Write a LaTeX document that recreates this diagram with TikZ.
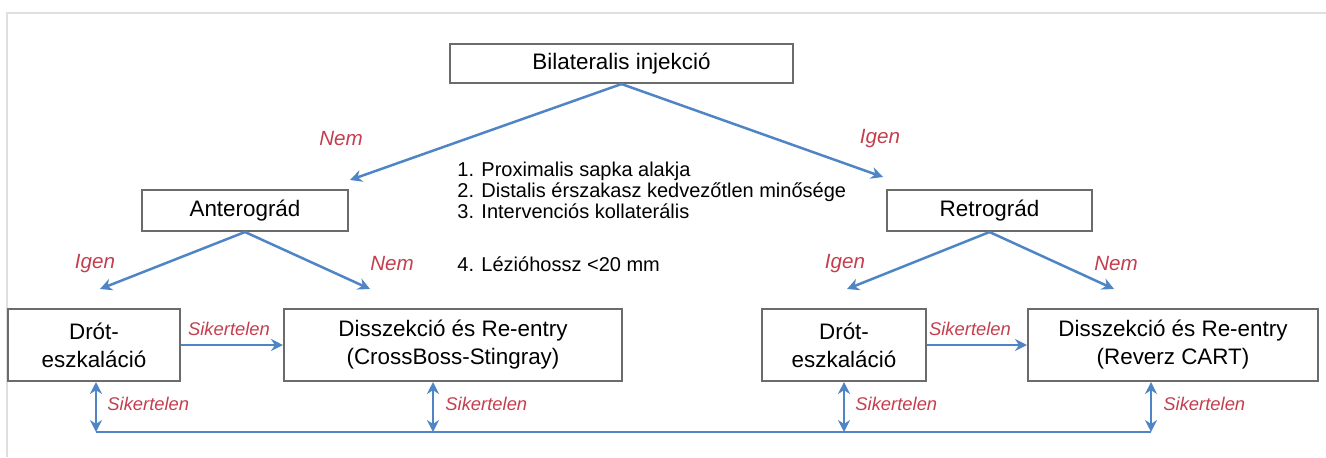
\documentclass[tikz,border=0pt]{standalone}
\usepackage{fontspec}
\setmainfont{Liberation Sans}
\usetikzlibrary{arrows.meta}
\definecolor{nyilkek}{RGB}{79,133,196}
\definecolor{feliratpiros}{RGB}{196,62,78}
\begin{document}
\begin{tikzpicture}[x=0.5pt,y=-0.5pt,
  doboz/.style={draw=black!58, line width=1pt, fill=white, align=center, inner sep=0pt,
    font=\fontsize{11.2}{14}\selectfont},
  nyil/.style={draw=nyilkek, line width=1.25pt, -{Stealth[length=6pt,width=6pt]}},
  ketnyil/.style={draw=nyilkek, line width=1.25pt, {Stealth[length=6pt,width=6pt]}-{Stealth[length=6pt,width=6pt]}},
  valasz/.style={text=feliratpiros, font=\fontsize{10.3}{12}\selectfont\itshape},
  sikertelen/.style={text=feliratpiros, font=\fontsize{9.2}{11}\selectfont\itshape, inner sep=0pt}]
 \useasboundingbox (0,0) rectangle (1326,457);
 \draw[gray!25, line width=0.6pt] (7,457) -- (7,13) -- (1326,13);
 % dobozok
 \node[doboz, minimum width=171.5pt, minimum height=19.5pt] (bilat) at (621.5,63.5) {Bilateralis injekció};
 \node[doboz, minimum width=103pt, minimum height=20.5pt] (ante) at (245,210.5) {Anterográd};
 \node[doboz, minimum width=102.5pt, minimum height=20.5pt] (retro) at (989.5,210.5) {Retrográd};
 \node[doboz, minimum width=86pt, minimum height=36pt] (drotA) at (94,345) {Drót-\\eszkaláció};
 \node[doboz, minimum width=169pt, minimum height=36pt] (disszA) at (453,345) {Disszekció és Re-entry\\(CrossBoss-Stingray)};
 \node[doboz, minimum width=82pt, minimum height=36pt] (drotB) at (844,345) {Drót-\\eszkaláció};
 \node[doboz, minimum width=145pt, minimum height=36pt] (disszB) at (1173,345) {Disszekció és Re-entry\\(Reverz CART)};
 % nyilak vegpontjai
 \coordinate (bilatNem) at (350,180);
 \coordinate (bilatIgen) at (883,177);
 \coordinate (anteIgen) at (100,289);
 \coordinate (anteNem) at (370,289);
 \coordinate (retroIgen) at (847,289);
 \coordinate (retroNem) at (1114,289);
 \coordinate (alsoA) at (96,432);
 \coordinate (alsoB) at (433,432);
 \coordinate (alsoC) at (844,432);
 \coordinate (alsoD) at (1151,432);
 \draw[nyil] (bilat.south) -- (bilatNem);
 \draw[nyil] (bilat.south) -- (bilatIgen);
 \draw[nyil] (ante.south) -- (anteIgen);
 \draw[nyil] (ante.south) -- (anteNem);
 \draw[nyil] (retro.south) -- (retroIgen);
 \draw[nyil] (retro.south) -- (retroNem);
 \draw[nyil] (drotA.east) -- (disszA.west);
 \draw[nyil] (drotB.east) -- (disszB.west);
 \draw[ketnyil] (alsoA |- drotA.south) -- (alsoA);
 \draw[ketnyil] (alsoB |- disszA.south) -- (alsoB);
 \draw[ketnyil] (alsoC |- drotB.south) -- (alsoC);
 \draw[ketnyil] (alsoD |- disszB.south) -- (alsoD);
 \draw[nyilkek, line width=1.25pt] (alsoA) -- (alsoD);
 % feliratok
 \node[valasz] (nem1) at (341,139) {Nem};
 \node[valasz] (igen1) at (880,139) {Igen};
 \node[valasz] (igen2) at (95,264) {Igen};
 \node[valasz] (nem2) at (392,264) {Nem};
 \node[valasz] (igen3) at (845,264) {Igen};
 \node[valasz] (nem3) at (1116,264) {Nem};
 \node[sikertelen] (sikA) at (229,329) {Sikertelen};
 \node[sikertelen] (sikB) at (970,329) {Sikertelen};
 \node[sikertelen, anchor=west] (sikA1) at (107,404) {Sikertelen};
 \node[sikertelen, anchor=west] (sikA2) at (445,404) {Sikertelen};
 \node[sikertelen, anchor=west] (sikB1) at (855,404) {Sikertelen};
 \node[sikertelen, anchor=west] (sikB2) at (1163,404) {Sikertelen};
 \node[anchor=north west, align=left, inner sep=0pt, font=\fontsize{10}{10.5}\selectfont] (szempontok) at (457,162)
   {1. Proximalis sapka alakja\\2. Distalis érszakasz kedvezőtlen minősége\\3. Intervenciós kollaterális};
 \node[anchor=west, inner sep=0pt, font=\fontsize{10}{10.5}\selectfont] (lezio) at (457,264) {4. Lézióhossz <20 mm};
\end{tikzpicture}
\end{document}
